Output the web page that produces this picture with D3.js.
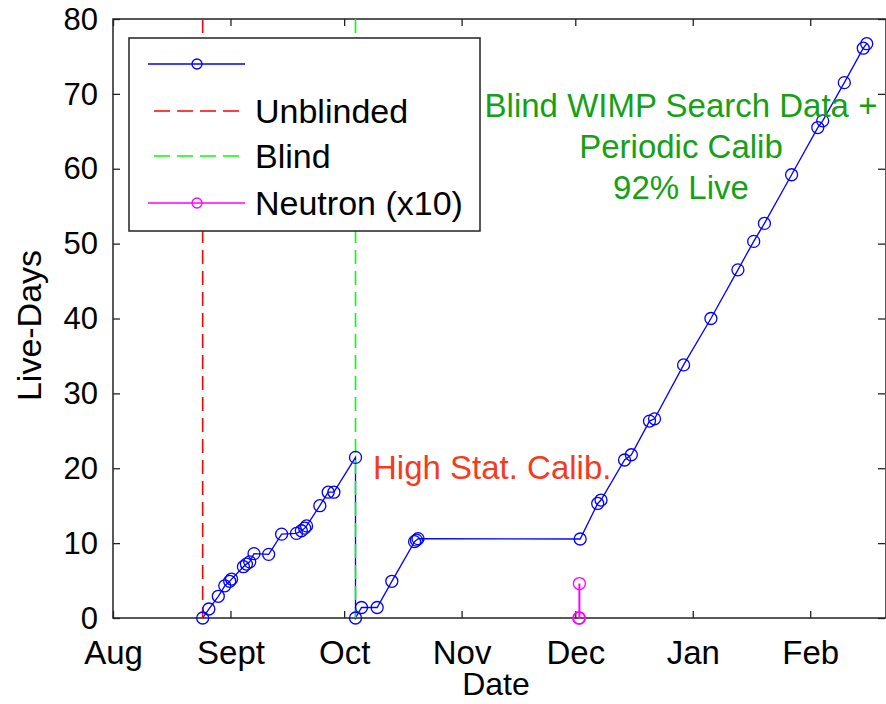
<!DOCTYPE html>
<html>
<head>
<meta charset="utf-8">
<script src="https://cdn.jsdelivr.net/npm/d3@7"></script>
<style>
  body { margin: 0; background: #fff; }
  svg { display: block; }
  text { font-family: "Liberation Sans", Arial, Helvetica, sans-serif; }
</style>
</head>
<body>
<svg id="chart" width="886" height="704"></svg>
<script>
// Axis ticks
const monthStarts = ["2003-08-01T00", "2003-09-01T00", "2003-10-01T00", "2003-11-01T00",
                     "2003-12-01T00", "2004-01-01T00", "2004-02-01T00"];
const monthLabels = ["Aug", "Sept", "Oct", "Nov", "Dec", "Jan", "Feb"];
const yTicks = [0, 10, 20, 30, 40, 50, 60, 70, 80];

// Accumulated live-days
const liveDates = [
  "2003-08-24T16", "2003-08-26T07", "2003-08-28T19", "2003-08-30T12", "2003-08-31T19",
  "2003-09-01T07", "2003-09-04T10", "2003-09-05T05", "2003-09-06T02", "2003-09-07T05",
  "2003-09-11T02", "2003-09-14T12", "2003-09-18T10", "2003-09-19T17", "2003-09-20T14",
  "2003-09-21T02", "2003-09-24T14", "2003-09-26T19", "2003-09-28T07", "2003-10-04T00",
  "2003-10-04T00", "2003-10-05T14", "2003-10-09T17", "2003-10-13T14", "2003-10-19T14",
  "2003-10-20T02", "2003-10-20T12", "2003-12-02T07", "2003-12-06T22", "2003-12-07T19",
  "2003-12-14T00", "2003-12-15T19", "2003-12-20T14", "2003-12-21T22", "2003-12-29T14",
  "2004-01-05T19", "2004-01-12T22", "2004-01-17T02", "2004-01-19T22", "2004-01-27T02",
  "2004-02-03T00", "2004-02-04T07", "2004-02-10T00", "2004-02-15T00", "2004-02-15T22"
];
const liveDays = [
  0, 1.2, 2.9, 4.3, 4.9,
  5.2, 6.85, 7.2, 7.5, 8.6,
  8.5, 11.2, 11.3, 11.65, 12.0,
  12.3, 15.0, 16.8, 16.8, 21.45,
  0, 1.4, 1.4, 4.9, 10.2,
  10.4, 10.6, 10.55, 15.3, 15.75,
  21.1, 21.8, 26.3, 26.6, 33.8,
  40.0, 46.5, 50.3, 52.7, 59.2,
  65.5, 66.4, 71.5, 76.1, 76.7
];

// Neutron calibration (scaled x10)
const neutronDates = ["2003-12-01T22", "2003-12-02T02", "2003-12-02T02"];
const neutronDays = [0, 0, 4.6];

// Run boundaries
const unblindedStart = "2003-08-24T16";
const blindStart = "2003-10-04T00";

const parse = d3.timeParse("%Y-%m-%dT%H");
const svg = d3.select("#chart");
const m = { left: 113, right: 886, top: 19, bottom: 618 };

const x = d3.scaleTime()
  .domain([parse("2003-08-01T00"), parse("2004-02-21T00")])
  .range([m.left, m.right]);
const y = d3.scaleLinear().domain([0, 80]).range([m.bottom, m.top]);

const blue = "#0000ff", red = "#ff0000", green = "#00ff00", magenta = "#ff00ff";

// Frame and ticks (inward, all four sides)
const axisG = svg.append("g");
const monthVals = monthStarts.map(parse);
axisG.append("g").attr("transform", `translate(0,${m.bottom})`)
  .call(d3.axisBottom(x).tickValues(monthVals).tickSizeInner(-7).tickSizeOuter(0)
    .tickFormat((d, i) => monthLabels[i]))
  .call(g => g.selectAll("text").attr("dy", null).attr("y", 46)
    .attr("font-size", 33).attr("fill", "#000"));
axisG.append("g").attr("transform", `translate(0,${m.top})`)
  .call(d3.axisTop(x).tickValues(monthVals).tickSizeInner(-7).tickSizeOuter(0).tickFormat(""));
axisG.append("g").attr("transform", `translate(${m.left},0)`)
  .call(d3.axisLeft(y).tickValues(yTicks).tickSizeInner(-7).tickSizeOuter(0))
  .call(g => g.selectAll("text").attr("x", -15).attr("dy", "0.33em")
    .attr("font-size", 31).attr("fill", "#000"));
axisG.append("g").attr("transform", `translate(${m.right - 1},0)`)
  .call(d3.axisRight(y).tickValues(yTicks).tickSizeInner(-7).tickSizeOuter(0).tickFormat(""));
axisG.selectAll(".domain").remove();
axisG.selectAll("line").attr("stroke", "#222").attr("stroke-width", 1.3);
axisG.selectAll("text").attr("font-family", "Liberation Sans, Arial, sans-serif");
svg.append("rect")
  .attr("x", m.left).attr("y", m.top)
  .attr("width", m.right - m.left).attr("height", m.bottom - m.top)
  .attr("fill", "none").attr("stroke", "#222").attr("stroke-width", 1.5);

// Axis titles
svg.append("text").attr("x", 496).attr("y", 695)
  .attr("text-anchor", "middle").attr("font-size", 32).text("Date");
svg.append("text")
  .attr("transform", `translate(41,${(m.top + m.bottom) / 2 + 7}) rotate(-90)`)
  .attr("text-anchor", "middle").attr("font-size", 34).text("Live-Days");

// Live-days series
const liveData = liveDates.map((d, i) => ({ t: parse(d), v: liveDays[i] }));
const line = d3.line().x(d => x(d.t)).y(d => y(d.v));
svg.append("path").datum(liveData)
  .attr("d", line).attr("fill", "none").attr("stroke", blue).attr("stroke-width", 1.3);

// Run boundary lines
svg.append("line")
  .attr("x1", x(parse(unblindedStart))).attr("x2", x(parse(unblindedStart)))
  .attr("y1", y(80)).attr("y2", y(0))
  .attr("stroke", red).attr("stroke-width", 1.6).attr("stroke-dasharray", "14,7");
svg.append("line")
  .attr("x1", x(parse(blindStart))).attr("x2", x(parse(blindStart)))
  .attr("y1", y(80)).attr("y2", y(0))
  .attr("stroke", green).attr("stroke-width", 1.6).attr("stroke-dasharray", "14,7");

svg.append("g").selectAll("circle").data(liveData).join("circle")
  .attr("cx", d => x(d.t)).attr("cy", d => y(d.v)).attr("r", 6)
  .attr("fill", "none").attr("stroke", blue).attr("stroke-width", 1.3);

// Neutron series
const neutronData = neutronDates.map((d, i) => ({ t: parse(d), v: neutronDays[i] }));
svg.append("path").datum(neutronData)
  .attr("d", line).attr("fill", "none").attr("stroke", magenta).attr("stroke-width", 2);
svg.append("g").selectAll("circle").data(neutronData).join("circle")
  .attr("cx", d => x(d.t)).attr("cy", d => y(d.v)).attr("r", 6)
  .attr("fill", "none").attr("stroke", magenta).attr("stroke-width", 1.3);

// Annotations
svg.append("text").attr("x", 373).attr("y", 479)
  .attr("font-size", 33).attr("fill", "#f53b1e").text("High Stat. Calib.");
const note = svg.append("text").attr("text-anchor", "middle")
  .attr("font-size", 33).attr("fill", "#16a016");
["Blind WIMP Search Data +", "Periodic Calib", "92% Live"].forEach((s, i) =>
  note.append("tspan").attr("x", 681).attr("y", 117 + i * 41).text(s));

// Legend
const lg = svg.append("g");
lg.append("rect").attr("x", 129).attr("y", 38).attr("width", 351).attr("height", 193)
  .attr("fill", "#fff").attr("stroke", "#222").attr("stroke-width", 1.5);
const legendItems = [
  { label: "", color: blue, dash: null, marker: true, yy: 64 },
  { label: "Unblinded", color: red, dash: "16,7", marker: false, yy: 111 },
  { label: "Blind", color: green, dash: "16,7", marker: false, yy: 156 },
  { label: "Neutron (x10)", color: magenta, dash: null, marker: true, yy: 203 }
];
legendItems.forEach(it => {
  lg.append("line")
    .attr("x1", it.dash ? 154 : 148).attr("x2", it.dash ? 241 : 245)
    .attr("y1", it.yy).attr("y2", it.yy)
    .attr("stroke", it.color).attr("stroke-width", 1.4)
    .attr("stroke-dasharray", it.dash);
  if (it.marker) {
    lg.append("circle").attr("cx", 197).attr("cy", it.yy).attr("r", 5)
      .attr("fill", "none").attr("stroke", it.color).attr("stroke-width", 1.3);
  }
  lg.append("text").attr("x", 255).attr("y", it.yy + 12)
    .attr("font-size", 34).attr("fill", "#000").text(it.label);
});
</script>
</body>
</html>
